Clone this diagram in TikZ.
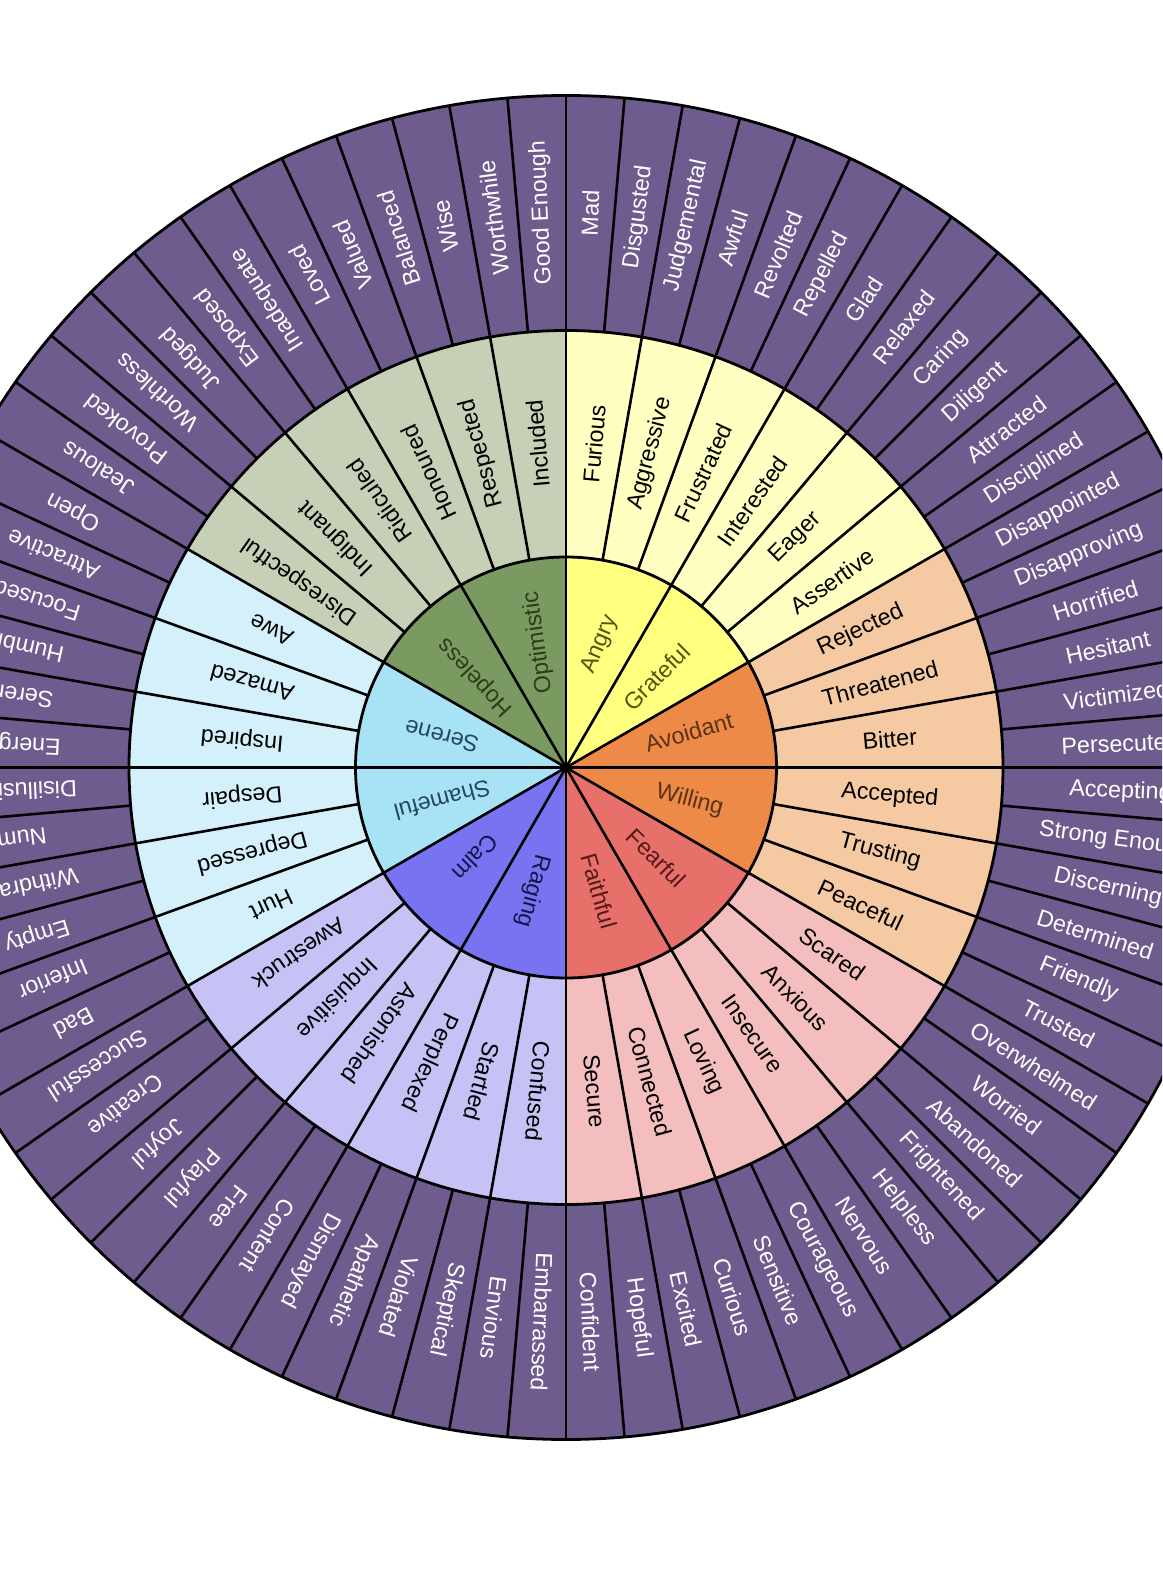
\documentclass[tikz,border=0pt]{standalone}
\usepackage{fontspec}
\setmainfont{Liberation Sans}
\definecolor{outerc}{RGB}{111,92,142}
\definecolor{inY}{RGB}{255,255,128}
\definecolor{inO}{RGB}{238,138,72}
\definecolor{inR}{RGB}{232,112,106}
\definecolor{inV}{RGB}{120,115,240}
\definecolor{inB}{RGB}{168,226,245}
\definecolor{inG}{RGB}{122,154,98}
\definecolor{mdY}{RGB}{255,255,194}
\definecolor{mdO}{RGB}{245,201,162}
\definecolor{mdR}{RGB}{244,190,190}
\definecolor{mdV}{RGB}{198,194,245}
\definecolor{mdB}{RGB}{212,240,250}
\definecolor{mdG}{RGB}{198,208,182}
\definecolor{txY}{RGB}{85,85,10}
\definecolor{txO}{RGB}{90,50,22}
\definecolor{txR}{RGB}{85,25,25}
\definecolor{txV}{RGB}{22,22,70}
\definecolor{txB}{RGB}{35,72,95}
\definecolor{txG}{RGB}{42,62,25}
\begin{document}
\begin{tikzpicture}[x=1pt,y=1pt,
  divider/.style={line width=2.6pt, line cap=round},
  rim/.style={line width=2.8pt},
  lbl/.style={font=\fontsize{23.3}{26}\selectfont, inner sep=0pt},
  outlbl/.style={lbl, text=white},
  midlbl/.style={lbl, text=black},
  inlbl/.style={lbl}]
\useasboundingbox (-566,-808.5) rectangle (596,767.5);
\clip (-566,-808.5) rectangle (596,767.5);
\fill[white] (-566,-808.5) rectangle (596,767.5);
\def\rA{210.5}
\def\rB{437}
\def\rC{672}
% outer ring
\fill[outerc] (0,0) circle (\rC);
% middle ring groups
\foreach \c [count=\g from 0] in {mdY,mdO,mdR,mdV,mdB,mdG} {
  \pgfmathsetmacro\aS{90-60*\g}
  \pgfmathsetmacro\aE{30-60*\g}
  \fill[\c] (0,0) -- (\aS:\rB) arc[start angle=\aS, end angle=\aE, radius=\rB] -- cycle;
}
% inner groups
\foreach \c [count=\g from 0] in {inY,inO,inR,inV,inB,inG} {
  \pgfmathsetmacro\aS{90-60*\g}
  \pgfmathsetmacro\aE{30-60*\g}
  \fill[\c] (0,0) -- (\aS:\rA) arc[start angle=\aS, end angle=\aE, radius=\rA] -- cycle;
}
% dividers
\foreach \k in {0,...,71} {
  \draw[divider] (90-5*\k:\rB) -- (90-5*\k:\rC);
}
\foreach \k in {0,...,35} {
  \draw[divider] (90-10*\k:\rA) -- (90-10*\k:\rB);
}
\foreach \k in {0,...,11} {
  \draw[divider] (0,0) -- (90-30*\k:\rA);
}
\draw[rim] (0,0) circle (\rA);
\draw[rim] (0,0) circle (\rB);
\draw[rim] (0,0) circle (\rC);
% outer labels
\foreach \t [count=\i from 0] in {Mad,Disgusted,Judgemental,Awful,Revolted,Repelled,Glad,Relaxed,Caring,Diligent,Attracted,Disciplined,Disappointed,Disapproving,Horrified,Hesitant,Victimized,Persecuted,Accepting,Strong Enough,Discerning,Determined,Friendly,Trusted,Overwhelmed,Worried,Abandoned,Frightened,Helpless,Nervous,Courageous,Sensitive,Curious,Excited,Hopeful,Confident,Embarrassed,Envious,Skeptical,Violated,Apathetic,Dismayed,Content,Free,Playful,Joyful,Creative,Successful,Bad,Inferior,Empty,Withdrawn,Numb,Disillusioned,Energetic,Serene,Humble,Focused,Attractive,Open,Jealous,Provoked,Worthless,Judged,Exposed,Inadequate,Loved,Valued,Balanced,Wise,Worthwhile,Good Enough} {
  \pgfmathsetmacro\a{87.5-5*\i}
  \node[outlbl, rotate=\a] (o\i) at (\a:555) {\t};
}
% middle labels
\foreach \t [count=\i from 0] in {Furious,Aggressive,Frustrated,Interested,Eager,Assertive,Rejected,Threatened,Bitter,Accepted,Trusting,Peaceful,Scared,Anxious,Insecure,Loving,Connected,Secure,Confused,Startled,Perplexed,Astonished,Inquisitive,Awestruck,Hurt,Depressed,Despair,Inspired,Amazed,Awe,Disrespectful,Indignant,Ridiculed,Honoured,Respected,Included} {
  \pgfmathsetmacro\a{85-10*\i}
  \node[midlbl, rotate=\a] (m\i) at (\a:325) {\t};
}
% inner labels (position angle / rotation)
\foreach \t/\c/\p/\r [count=\i from 0] in {Angry/txY/74.5/67,Grateful/txY/45/45,Avoidant/txO/16/16,Willing/txO/-15/-15,Fearful/txR/-45/-45,Faithful/txR/-75/-74,Raging/txV/-105/-105,Calm/txV/-135/-135,Shameful/txB/-165/-165,Serene/txB/166/166,Hopeless/txG/135/133,Optimistic/txG/102.5/98} {
  \node[inlbl, text=\c, rotate=\r] (i\i) at (\p:128) {\t};
}
\end{tikzpicture}
\end{document}
